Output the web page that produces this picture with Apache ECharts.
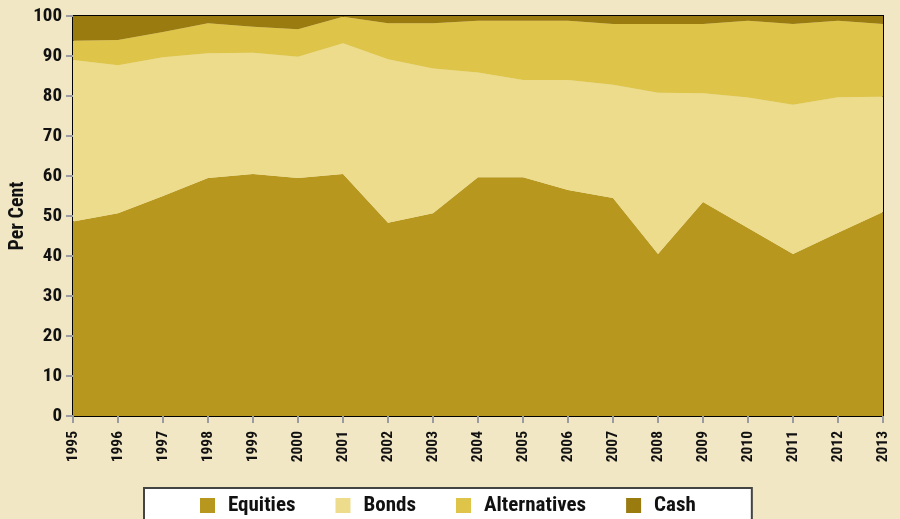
<!DOCTYPE html>
<html><head><meta charset="utf-8">
<script src="https://cdn.jsdelivr.net/npm/echarts@6/dist/echarts.min.js"></script>
<style>html,body{margin:0;padding:0;background:#f1e7c4;}#c{width:900px;height:519px;}</style>
</head><body><div id="c"></div>
<script>
const years = ['1995','1996','1997','1998','1999','2000','2001','2002','2003','2004','2005','2006','2007','2008','2009','2010','2011','2012','2013'];
const equities = [48.6, 50.7, 55, 59.5, 60.5, 59.5, 60.5, 48.3, 50.7, 59.7, 59.7, 56.5, 54.5, 40.5, 53.5, 47, 40.5, 45.8, 51];
const bonds = [40.4, 37, 34.7, 31.2, 30.3, 30.3, 32.7, 40.9, 36.2, 26.2, 24.3, 27.5, 28.3, 40.3, 27.2, 32.6, 37.3, 33.9, 28.8];
const alternatives = [4.8, 6.3, 6.3, 7.5, 6.5, 6.9, 6.6, 9, 11.3, 12.9, 14.8, 14.8, 15.2, 17.2, 17.3, 19.2, 20.2, 19.1, 18.2];
const cash = [6.2, 6, 4, 1.8, 2.7, 3.3, 0.2, 1.8, 1.8, 1.2, 1.2, 1.2, 2, 2, 2, 1.2, 2, 1.2, 2];
const yTicks = [0,10,20,30,40,50,60,70,80,90,100];

const FONT = '"Liberation Sans Narrow", "Roboto Condensed", "Liberation Sans", Arial, sans-serif';
const colors = {Equities:'#b8971e', Bonds:'#ecdc8c', Alternatives:'#dec54a', Cash:'#9a7b10'};
function mk(name, data){
  return {name, type:'line', stack:'total', data, symbol:'none', smooth:false,
    lineStyle:{width:0}, areaStyle:{color:colors[name], opacity:1}, itemStyle:{color:colors[name]}};
}
const chart = echarts.init(document.getElementById('c'), null, {renderer:'canvas'});
chart.setOption({
  backgroundColor:'#f1e7c4',
  animation:false,
  grid:{left:73, right:17, top:16, bottom:103, containLabel:false, outerBoundsMode:'none', show:true, borderColor:'#000', borderWidth:2, backgroundColor:'transparent'},
  xAxis:{type:'category', data:years, boundaryGap:false,
    axisLine:{show:false},
    axisTick:{show:true, length:7, lineStyle:{color:'#9a9aa2', width:2}},
    axisLabel:{rotate:90, fontFamily:FONT, fontWeight:'bold', fontSize:15.5, color:'#111', margin:15, interval:0},
    splitLine:{show:false}},
  yAxis:{type:'value', min:0, max:100, interval:10,
    name:'Per Cent', nameLocation:'middle', nameGap:45, nameRotate:90, nameMoveOverlap:false,
    nameTextStyle:{fontFamily:FONT, fontWeight:'bold', fontSize:20, color:'#111'},
    axisLine:{show:false},
    axisTick:{show:true, length:7, lineStyle:{color:'#9a9aa2', width:2}},
    axisLabel:{fontFamily:FONT, fontWeight:'bold', fontSize:19, color:'#111', margin:11,
      formatter:v=> yTicks.includes(v)? String(v):''},
    splitLine:{show:false}},
  legend:{left:144, top:488, itemWidth:15, itemHeight:15, itemGap:40,
    icon:'rect',
    padding:[7,56,20,56],
    backgroundColor:'#fff', borderColor:'#444', borderWidth:2,
    textStyle:{fontFamily:FONT, fontWeight:'bold', fontSize:21, color:'#111', padding:[0,0,0,8]},
    data:['Equities','Bonds','Alternatives','Cash']},
  series:[mk('Equities',equities), mk('Bonds',bonds), mk('Alternatives',alternatives), mk('Cash',cash)]
});
</script></body></html>
